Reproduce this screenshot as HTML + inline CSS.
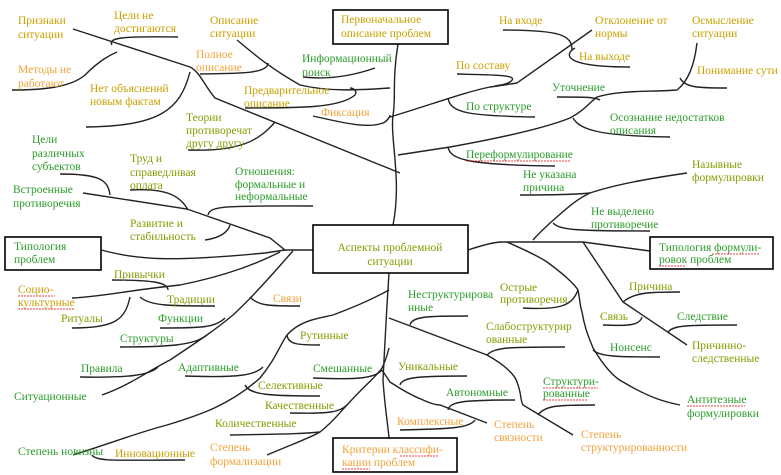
<!DOCTYPE html>
<html><head><meta charset="utf-8"><style>
html,body{margin:0;padding:0;background:#fff;}
svg{display:block}
text{font-family:"Liberation Serif",serif;font-size:11.5px;}
.g{fill:#c9a100}.o{fill:#f2a33a}.n{fill:#2a9d2a}.v{fill:#7f9f00}
path{fill:none;stroke:#222;stroke-width:1.4}
rect{fill:#fff;stroke:#000;stroke-width:1.6}
.w{stroke:#e00;stroke-width:0.8;stroke-dasharray:2 1}
</style></head><body>
<svg width="781" height="475" viewBox="0 0 781 475">
<path d="M398,44 C392,80 396,100 393,115 C390,140 402,180 393,225"/>
<path d="M389,273 C386,320 384,360 383,380 C385,410 388,425 389,438"/>
<path d="M73,29 L190,67 C200,72 204,85 215,98 L400,173"/>
<path d="M112,45 C108,38 120,36 178,37"/>
<path d="M12,90 C40,90 70,88 85,75 C100,60 110,55 117,52"/>
<path d="M190,72 C180,110 160,126 86,127"/>
<path d="M200,74 C230,73 268,75 268,63"/>
<path d="M237,40 C255,55 270,68 300,85 C330,92 360,90 390,88"/>
<path d="M303,77 C330,80 355,75 375,68"/>
<path d="M245,108 C300,108 340,108 355,95 C358,90 352,88 350,88"/>
<path d="M313,116 C340,122 370,130 385,122 C390,118 390,115 390,115"/>
<path d="M188,150 C240,152 260,140 275,122"/>
<path d="M83,193 L187,209 L270,238 L285,250 L313,250"/>
<path d="M60,174 C100,174 108,180 110,195"/>
<path d="M130,190 C165,188 180,195 188,210"/>
<path d="M208,215 C210,205 230,206 313,206"/>
<path d="M205,240 C220,238 228,232 230,225"/>
<path d="M101,250 C140,260 170,262 265,253 L285,250"/>
<path d="M72,298 C100,297 130,290 180,285 C230,275 260,262 280,252"/>
<path d="M112,280 C150,280 168,282 168,290"/>
<path d="M140,297 C150,306 170,306 215,306"/>
<path d="M130,297 C125,320 115,328 72,328"/>
<path d="M102,395 C130,385 150,370 170,360 C200,340 215,330 233,315 C260,290 280,265 293,251"/>
<path d="M160,328 C200,328 215,328 225,318"/>
<path d="M120,347 C170,347 195,345 207,335"/>
<path d="M80,377 C130,378 150,375 158,367"/>
<path d="M250,297 C258,306 270,306 300,306"/>
<path d="M73,455 C120,440 140,432 167,425 C200,415 230,405 260,378 C275,360 280,345 287,335 C300,320 320,318 333,315 C360,305 380,295 389,290"/>
<path d="M287,335 C288,345 300,345 320,345"/>
<path d="M185,376 C240,378 255,375 263,367"/>
<path d="M245,385 C250,395 270,396 320,396"/>
<path d="M92,455 C96,462 120,460 185,460"/>
<path d="M267,455 C290,445 310,438 320,432 C335,420 340,412 347,405 C365,385 378,375 382,368 C386,360 388,352 389,348"/>
<path d="M290,413 C330,414 340,412 347,405"/>
<path d="M230,435 C280,434 300,434 320,432"/>
<path d="M313,378 C360,380 375,378 382,370"/>
<path d="M382,370 L390,382 C405,392 418,398 423,400 C432,404 437,405 440,405 L487,423"/>
<path d="M400,385 C402,377 420,376 467,376"/>
<path d="M448,410 C450,402 460,400 515,400"/>
<path d="M400,430 C450,429 470,428 475,420"/>
<path d="M389,318 L487,355 C505,365 515,375 517,382 C522,395 520,400 523,405 L573,435"/>
<path d="M410,325 C412,316 430,316 468,316"/>
<path d="M487,355 C495,347 510,347 565,347"/>
<path d="M538,415 C545,405 560,405 595,405"/>
<path d="M507,242 C525,250 540,257 547,262 C565,275 575,285 578,290 C580,300 580,306 582,312 C585,330 590,340 593,348 C605,368 615,378 623,382 C650,398 665,402 680,405"/>
<path d="M523,308 C560,310 572,306 578,290"/>
<path d="M593,350 C600,357 620,357 660,357"/>
<path d="M468,250 C480,246 490,243 500,242 L583,242 L650,251"/>
<path d="M583,242 L623,302 L687,345"/>
<path d="M623,302 C635,292 650,292 680,292"/>
<path d="M668,333 C670,325 690,325 737,325"/>
<path d="M603,325 C625,326 640,326 642,317"/>
<path d="M533,240 C540,232 545,228 550,223 C565,210 575,200 590,193 C620,183 660,177 687,173"/>
<path d="M520,195 C560,195 580,194 590,193"/>
<path d="M553,223 C560,230 575,231 650,231"/>
<path d="M398,155 L450,147 C500,138 545,128 570,118 C585,110 590,102 597,97 C620,90 650,92 677,90 C690,80 695,60 697,43"/>
<path d="M448,147 C450,160 470,165 555,166"/>
<path d="M573,118 C580,130 600,136 670,137"/>
<path d="M557,97 C585,97 595,97 600,100"/>
<path d="M680,78 C685,88 700,88 727,88"/>
<path d="M390,117 C430,105 465,92 490,87 C505,85 510,84 517,83 L592,30"/>
<path d="M457,74 C500,75 520,75 510,82 C505,85 500,85 495,86"/>
<path d="M448,98 C450,113 470,116 535,117"/>
<path d="M503,30 C560,30 572,35 572,50"/>
<path d="M575,48 C563,55 565,67 630,67"/>
<rect x="333" y="10" width="115" height="34"/>
<rect x="313" y="225" width="155" height="48"/>
<rect x="5" y="237" width="96" height="33"/>
<rect x="650" y="237" width="123" height="32"/>
<rect x="333" y="438" width="124" height="34"/>
<text class="g" x="18" y="24">Признаки</text><text class="g" x="18" y="38">ситуации</text>
<text class="g" x="114" y="19">Цели не</text><text class="g" x="114" y="32">достигаются</text>
<text class="o" x="18" y="73">Методы не</text><text class="o" x="18" y="87">работают</text>
<text class="g" x="90" y="92">Нет объяснений</text><text class="g" x="90" y="105">новым фактам</text>
<text class="g" x="210" y="24">Описание</text><text class="g" x="210" y="37">ситуации</text>
<text class="o" x="196" y="58">Полное</text><text class="o" x="196" y="71">описание</text>
<text class="n" x="302" y="62">Информационный</text><text class="n" x="302" y="76">поиск</text>
<text class="g" x="244" y="94">Предварительное</text><text class="g" x="244" y="107">описание</text>
<text class="o" x="321" y="116">Фиксация</text>
<text class="v" x="186" y="121">Теории</text><text class="v" x="186" y="134">противоречат</text><text class="v" x="186" y="147">другу другу</text>
<text class="g" x="341" y="23">Первоначальное</text><text class="g" x="341" y="37">описание проблем</text>
<text class="n" x="32" y="143">Цели</text><text class="n" x="32" y="157">различных</text><text class="n" x="32" y="170">субъектов</text>
<text class="n" x="13" y="193">Встроенные</text><text class="n" x="13" y="207">противоречия</text>
<text class="v" x="130" y="162">Труд и</text><text class="v" x="130" y="176">справедливая</text><text class="v" x="130" y="189">оплата</text>
<text class="n" x="235" y="175">Отношения:</text><text class="n" x="235" y="188">формальные и</text><text class="n" x="235" y="200">неформальные</text>
<text class="v" x="130" y="227">Развитие и</text><text class="v" x="130" y="240">стабильность</text>
<text class="n" x="14" y="250">Типология</text><text class="n" x="14" y="263">проблем</text>
<text class="v" x="114" y="278">Привычки</text>
<text class="g" x="18" y="293">Социо-</text><text class="g" x="18" y="306">культурные</text>
<path class="w" d="M18,296 H55 M18,309 H75"/>
<text class="v" x="167" y="303">Традиции</text>
<text class="v" x="61" y="322">Ритуалы</text>
<text class="n" x="158" y="322">Функции</text>
<text class="n" x="120" y="342">Структуры</text>
<text class="o" x="273" y="302">Связи</text>
<text class="v" x="300" y="339">Рутинные</text>
<text class="n" x="81" y="372">Правила</text>
<text class="n" x="178" y="371">Адаптивные</text>
<text class="n" x="313" y="372">Смешанные</text>
<text class="n" x="14" y="400">Ситуационные</text>
<text class="v" x="258" y="389">Селективные</text>
<text class="v" x="265" y="409">Качественные</text>
<text class="v" x="215" y="427">Количественные</text>
<text class="n" x="18" y="455">Степень новизны</text>
<text class="g" x="115" y="457">Инновационные</text>
<text class="o" x="210" y="451">Степень</text><text class="o" x="210" y="465">формализации</text>
<text class="v" x="390" y="251" text-anchor="middle">Аспекты проблемной</text><text class="v" x="390" y="265" text-anchor="middle">ситуации</text>
<text class="o" x="342" y="453">Критерии классифи-</text><text class="o" x="342" y="466">кации проблем</text>
<path class="w" d="M400,456 H438 M342,469 H370"/>
<text class="g" x="499" y="24">На входе</text>
<text class="g" x="595" y="24">Отклонение от</text><text class="g" x="595" y="37">нормы</text>
<text class="g" x="692" y="24">Осмысление</text><text class="g" x="692" y="37">ситуации</text>
<text class="g" x="456" y="69">По составу</text>
<text class="g" x="579" y="60">На выходе</text>
<text class="g" x="697" y="74">Понимание сути</text>
<text class="n" x="552" y="91">Уточнение</text>
<text class="n" x="466" y="110">По структуре</text>
<text class="n" x="610" y="121">Осознание недостатков</text><text class="n" x="610" y="134">описания</text>
<text class="n" x="466" y="158">Переформулирование</text>
<path class="w" d="M466,161 H570"/>
<text class="n" x="523" y="178">Не указана</text><text class="n" x="523" y="191">причина</text>
<text class="v" x="692" y="168">Назывные</text><text class="v" x="692" y="181">формулировки</text>
<text class="n" x="591" y="215">Не выделено</text><text class="n" x="591" y="228">противоречие</text>
<text class="n" x="659" y="251">Типология формули-</text><text class="n" x="659" y="263">ровок проблем</text>
<path class="w" d="M712,254 H760 M659,266 H685"/>
<text class="v" x="500" y="291">Острые</text><text class="v" x="500" y="303">противоречия</text>
<text class="n" x="408" y="298">Неструктурирова</text><text class="n" x="408" y="311">нные</text>
<text class="v" x="629" y="290">Причина</text>
<text class="v" x="600" y="320">Связь</text>
<text class="n" x="677" y="320">Следствие</text>
<text class="v" x="486" y="330">Слабоструктурир</text><text class="v" x="486" y="343">ованные</text>
<text class="n" x="610" y="351">Нонсенс</text>
<text class="v" x="692" y="349">Причинно-</text><text class="v" x="692" y="362">следственные</text>
<text class="v" x="398" y="370">Уникальные</text>
<text class="n" x="446" y="396">Автономные</text>
<text class="n" x="543" y="385">Структури-</text><text class="n" x="543" y="397">рованные</text>
<path class="w" d="M543,388 H598 M543,400 H588"/>
<text class="n" x="687" y="403">Антитезные</text><text class="n" x="687" y="417">формулировки</text>
<path class="w" d="M687,406 H745"/>
<text class="o" x="397" y="425">Комплексные</text>
<text class="o" x="494" y="428">Степень</text><text class="o" x="494" y="441">связности</text>
<text class="o" x="581" y="438">Степень</text><text class="o" x="581" y="451">структурированности</text>
</svg>
</body></html>
